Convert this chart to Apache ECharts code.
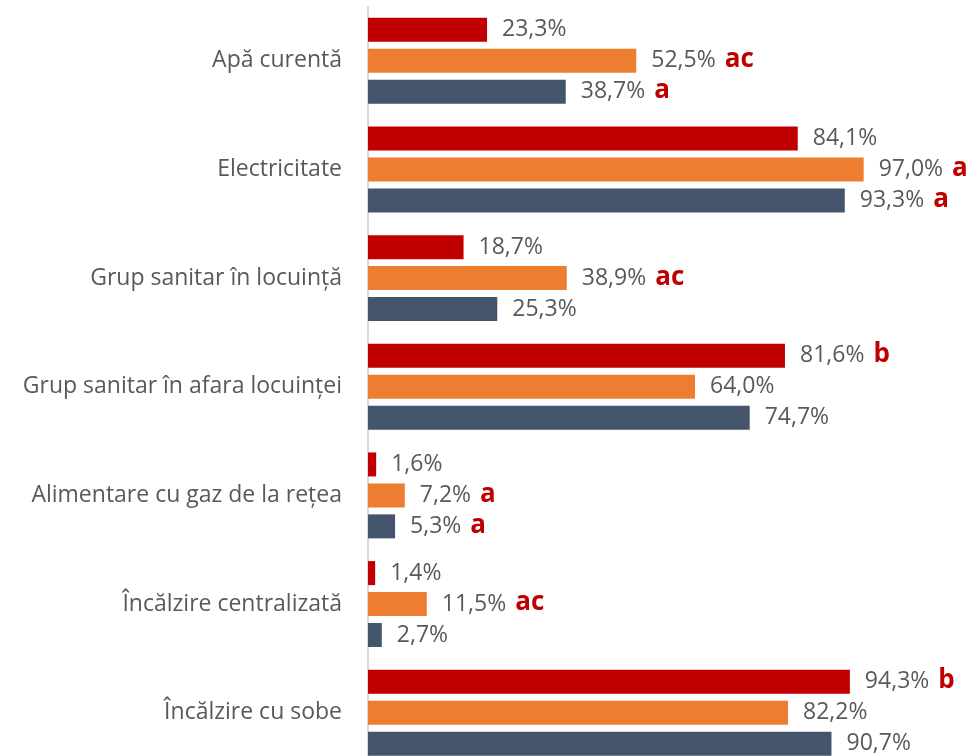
<!DOCTYPE html>
<html>
<head>
<meta charset="utf-8">
<script src="https://cdn.jsdelivr.net/npm/echarts@6/dist/echarts.min.js"></script>
<style>
  html, body { margin: 0; padding: 0; background: #fff; }
</style>
</head>
<body>
<div id="chart" style="width: 972px;height:756px;"></div>
<script>
// categories (top to bottom)
var categories = ['Apă curentă', 'Electricitate', 'Grup sanitar în locuință',
  'Grup sanitar în afara locuinței', 'Alimentare cu gaz de la rețea',
  'Încălzire centralizată', 'Încălzire cu sobe'];

// three groups, values in %
var redValues    = [23.3, 84.1, 18.7, 81.6, 1.6, 1.4, 94.3];
var orangeValues = [52.5, 97.0, 38.9, 64.0, 7.2, 11.5, 82.2];
var blueValues   = [38.7, 93.3, 25.3, 74.7, 5.3, 2.7, 90.7];

// significance letters next to labels
var redMarks    = ['', '', '', 'b', '', '', 'b'];
var orangeMarks = ['ac', 'a', 'ac', '', 'a', 'ac', ''];
var blueMarks   = ['a', 'a', '', '', 'a', '', ''];

var charts = echarts.init(document.getElementById('chart'));

function makeSeries(values, marks, color) {
  return {
    type: 'bar',
    data: values,
    barWidth: 24,
    barGap: '29%',
    itemStyle: { color: color },
    label: {
      show: true,
      position: 'right',
      distance: 15,
      formatter: function (p) {
        var txt = '{v|' + p.value.toFixed(1).replace('.', ',') + '%}';
        var m = marks[p.dataIndex];
        if (m) txt += '{s|' + m + '}';
        return txt;
      },
      rich: {
        v: { fontSize: 23, color: '#595959', fontFamily: 'Open Sans' },
        s: { fontSize: 26, color: '#C00000', fontWeight: 'bold', fontFamily: 'Open Sans', padding: [0, 0, 2, 9] }
      }
    },
    animation: false
  };
}

var option = {
  grid: {
    left: 368,
    top: 6.5,
    width: 511,
    height: 760.5,
    outerBoundsMode: 'none',
    containLabel: false
  },
  xAxis: {
    type: 'value',
    min: 0,
    max: 100,
    show: false
  },
  yAxis: {
    type: 'category',
    inverse: true,
    data: categories,
    axisLine: { show: true, lineStyle: { color: '#D9D9D9', width: 2 } },
    axisTick: { show: false },
    axisLabel: {
      margin: 26,
      fontSize: 23,
      color: '#595959',
      fontFamily: 'Open Sans'
    }
  },
  series: [
    makeSeries(redValues, redMarks, '#C00000'),
    makeSeries(orangeValues, orangeMarks, '#ED7D31'),
    makeSeries(blueValues, blueMarks, '#44546A')
  ]
};
charts.setOption(option);
</script>
</body>
</html>
